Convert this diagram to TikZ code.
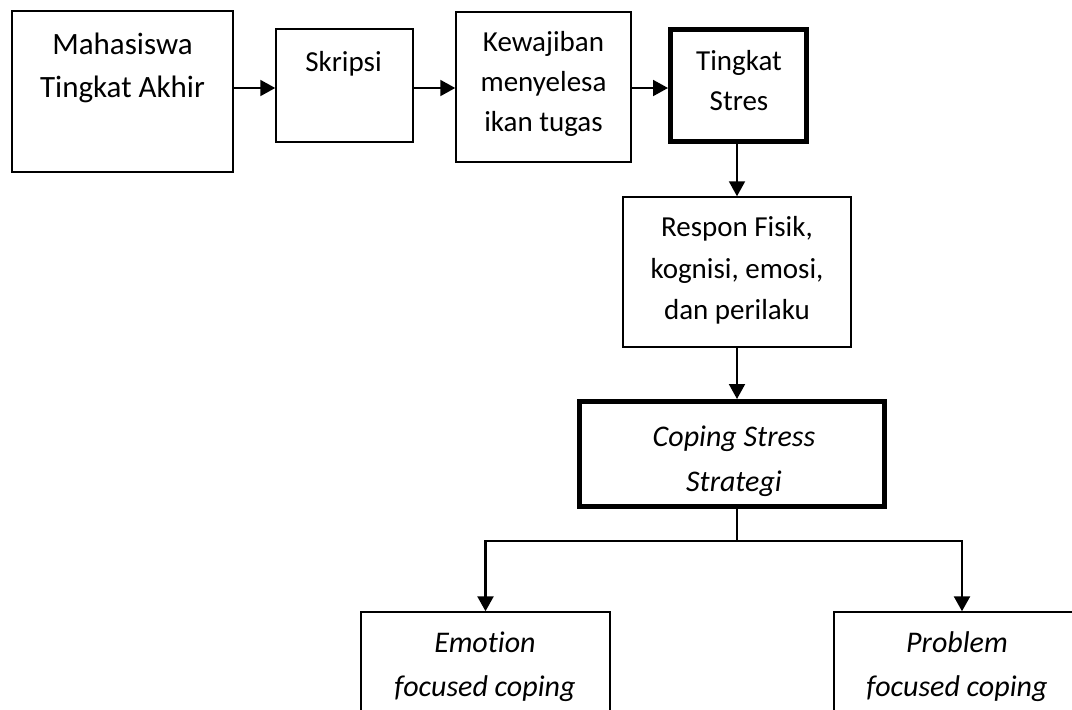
\documentclass[tikz,border=0pt]{standalone}
\usepackage{fontspec}
\setmainfont{Carlito}[Ligatures=NoCommon]
\usetikzlibrary{arrows.meta}

\begin{document}
\begin{tikzpicture}[x=1pt, y=-1pt,
      kotak/.style = {shape=rectangle, draw, line width=1.5pt, inner sep=0pt},
      kotaktebal/.style = {kotak, line width=5pt},
      teks/.style = {align=center, inner sep=0pt,
        font=\fontsize{29pt}{40pt}\selectfont},
      panah/.style = {line width=2pt, -{Triangle[length=15pt,width=16pt]}}]
  \useasboundingbox (0,0) rectangle (1072,710);
  \clip (0,0) rectangle (1072,710);
  \node[kotak, line width=2pt, minimum width=221pt, minimum height=161pt] (mhs) at (122.5,91.5) {};
  \node[kotak, minimum width=137pt, minimum height=113pt] (skr) at (344.5,85.5) {};
  \node[kotak, minimum width=175pt, minimum height=150pt] (kwj) at (543.5,87) {};
  \node[kotaktebal, minimum width=136pt, minimum height=112pt] (stres) at (738.5,85.5) {};
  \node[kotak, minimum width=228pt, minimum height=150pt] (resp) at (737,272) {};
  \node[kotaktebal, minimum width=305pt, minimum height=105pt] (cop) at (732,454) {};
  \node[kotak, minimum width=249pt, minimum height=106pt] (emo) at (485.5,665) {};
  \node[kotak, minimum width=256pt, minimum height=106pt] (prb) at (962,665) {};
  \node[teks, font=\fontsize{31pt}{43pt}\selectfont] (mhs-teks) at (122.5,68) {Mahasiswa\\Tingkat Akhir};
  \node[teks] (skr-teks) at (343.5,64) {Skripsi};
  \node[teks] (kwj-teks) at (543.5,84) {Kewajiban\\menyelesa\\ikan tugas};
  \node[teks] (stres-teks) at (739,81) {Tingkat\\Stres};
  \node[teks, font=\fontsize{29pt}{41.5pt}\selectfont] (resp-teks) at (737,270.5) {Respon Fisik,\\kognisi, emosi,\\dan perilaku};
  \node[teks, font=\fontsize{30pt}{45pt}\selectfont\itshape] (cop-teks) at (734,461) {Coping Stress\\Strategi};
  \node[teks, font=\fontsize{30pt}{44pt}\selectfont\itshape] (emo-teks) at (485,667) {Emotion\\focused coping};
  \node[teks, font=\fontsize{30pt}{44pt}\selectfont\itshape] (prb-teks) at (957,666.5) {Problem\\focused coping};
  \coordinate (baris) at (0,88);
  \coordinate (cabang) at (737,541);
  \draw[panah] (mhs.east |- baris) -- (skr.west |- baris);
  \draw[panah] (skr.east |- baris) -- (kwj.west |- baris);
  \draw[panah] (kwj.east |- baris) -- (stres.west |- baris);
  \draw[panah] (resp.north |- stres.south) -- (resp.north);
  \draw[panah] (resp.south) -- (resp.south |- cop.north);
  \draw[line width=1.5pt] (cabang |- cop.south) -- (cabang);
  \draw[panah, line width=2.5pt] (cabang) -| (emo.north);
  \draw[panah, line width=2.5pt] (cabang) -| (prb.north);
\end{tikzpicture}
\end{document}
